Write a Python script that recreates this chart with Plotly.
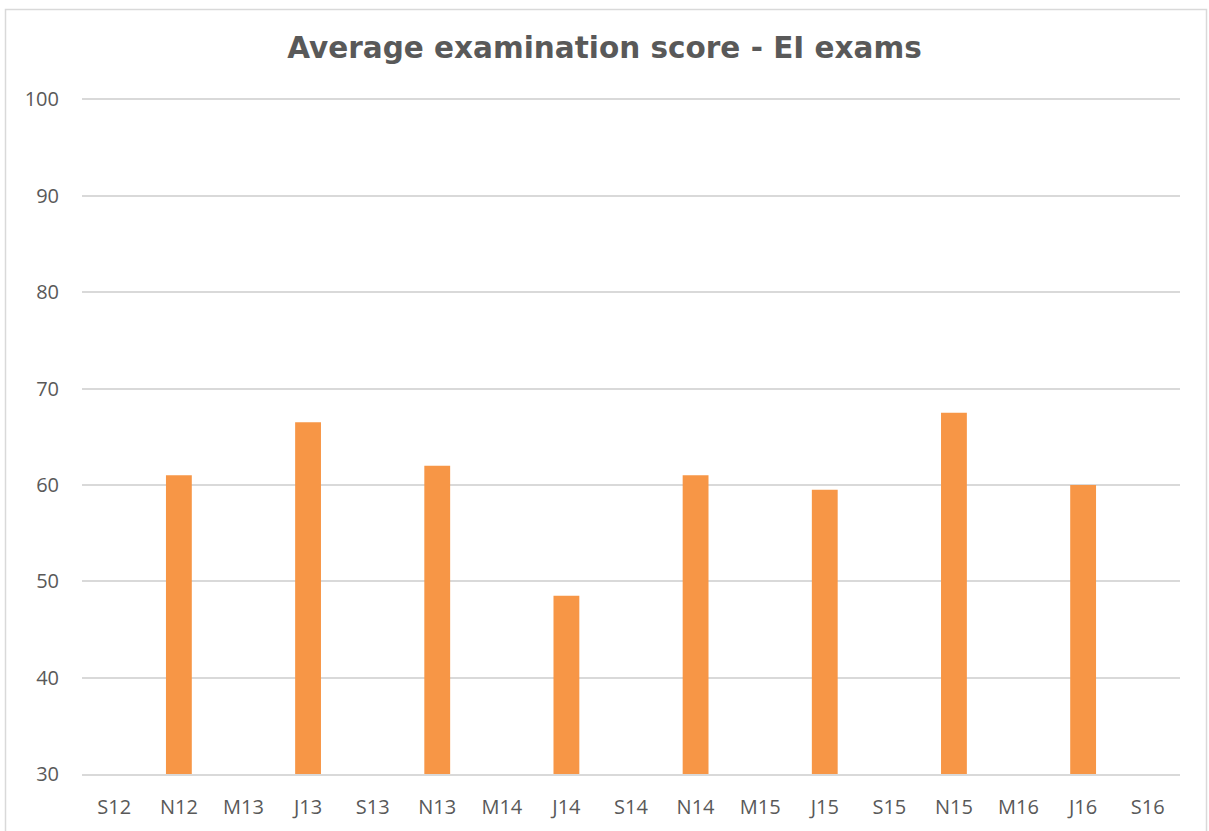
import plotly.graph_objects as go

# Exam sessions and their average scores (None = no exam that session)
sessions = ['S12', 'N12', 'M13', 'J13', 'S13', 'N13', 'M14', 'J14', 'S14',
            'N14', 'M15', 'J15', 'S15', 'N15', 'M16', 'J16', 'S16']
avg_scores = [None, 61, None, 66.5, None, 62, None, 48.5, None,
              61, None, 59.5, None, 67.5, None, 60, None]
y_ticks = [30, 40, 50, 60, 70, 80, 90, 100]

W, H = 1209, 831
margin = dict(l=82, r=29, t=98, b=57)
plot_w = W - margin['l'] - margin['r']
plot_h = H - margin['t'] - margin['b']

fig = go.Figure(go.Bar(
    x=sessions,
    y=avg_scores,
    marker=dict(color='#F79646', line=dict(width=0)),
    hoverinfo='x+y'
))

# Outer chart border (light gray frame like the spreadsheet chart)
fig.add_shape(
    type='rect', xref='paper', yref='paper',
    x0=(5.5 - margin['l']) / plot_w, x1=(1206.5 - margin['l']) / plot_w,
    y0=(H - margin['b'] - 845) / plot_h, y1=(H - margin['b'] - 9.5) / plot_h,
    line=dict(color='#D9D9D9', width=1.5), fillcolor='rgba(0,0,0,0)', layer='below'
)

fig.update_layout(
    width=W, height=H,
    margin=margin,
    title=dict(text='<b>Average examination score - EI exams</b>',
               x=0.5, xanchor='center', y=1 - 48 / H, yanchor='middle',
               font=dict(family='DejaVu Sans', size=29.5, color='#595959')),
    plot_bgcolor='white',
    paper_bgcolor='white',
    bargap=0.6,
    showlegend=False,
    font=dict(family='Open Sans', size=20, color='#595959'),
    xaxis=dict(showgrid=False, showline=True, linecolor='#D9D9D9', linewidth=1.5,
               ticks='', ticklabelstandoff=14, tickfont=dict(size=20, color='#595959')),
    yaxis=dict(range=[30, 100.15], tickvals=y_ticks, showgrid=True, gridcolor='#D9D9D9',
               gridwidth=1.5, zeroline=False, showline=False, ticks='',
               ticklabelstandoff=22, tickfont=dict(size=20, color='#595959')),
)

fig.write_html("out.html", config={'displayModeBar': False},
               post_script="document.body.style.margin='0px';")
